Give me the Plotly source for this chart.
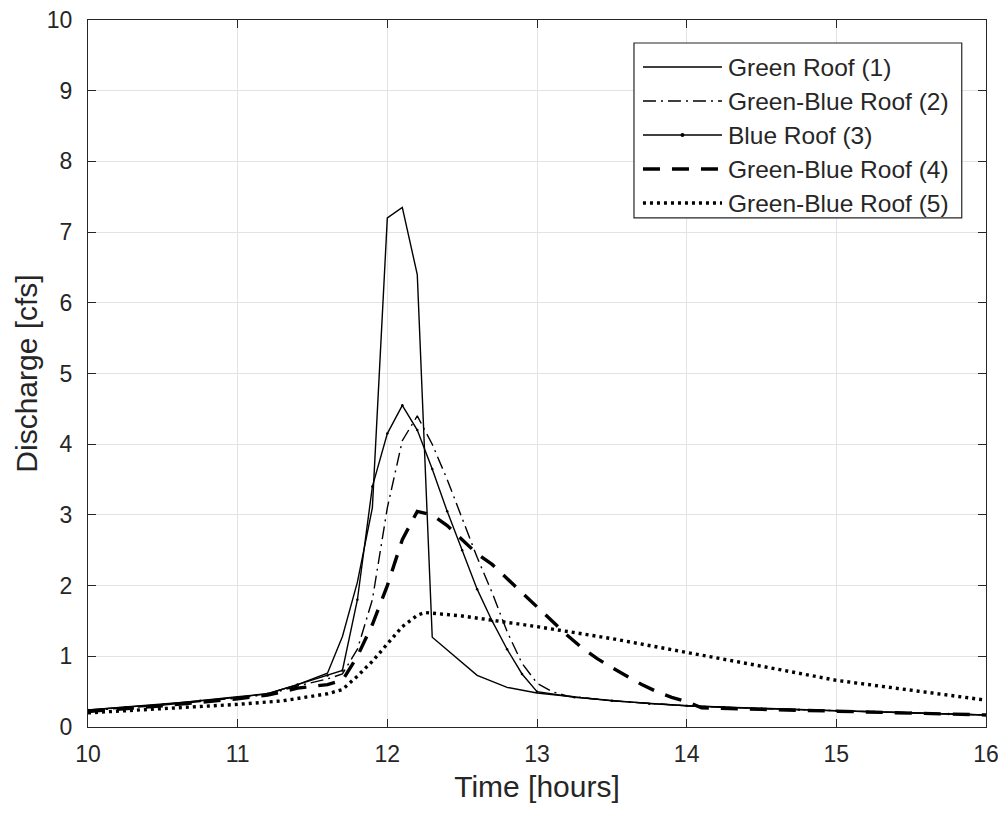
import plotly.graph_objects as go

# ---- data (time in hours, discharge in cfs) ----
names = ["Green Roof (1)", "Green-Blue Roof (2)", "Blue Roof (3)",
         "Green-Blue Roof (4)", "Green-Blue Roof (5)"]

t1 = [10.0, 10.5, 11.0, 11.2, 11.4, 11.6, 11.7, 11.8, 11.9, 12.0, 12.1, 12.2, 12.3,
      12.45, 12.6, 12.8, 13.0, 13.5, 14.0, 14.5, 15.0, 15.5, 16.0]
q1 = [0.24, 0.32, 0.43, 0.47, 0.60, 0.76, 1.28, 2.05, 3.1, 7.2, 7.35, 6.4, 1.27,
      1.0, 0.73, 0.56, 0.48, 0.37, 0.30, 0.26, 0.23, 0.20, 0.17]

t2 = [10.0, 10.5, 11.0, 11.2, 11.4, 11.6, 11.7, 11.8, 11.9, 12.0, 12.1, 12.2, 12.3,
      12.4, 12.5, 12.6, 12.7, 12.8, 12.9, 13.0, 13.1, 13.2, 13.5, 14.0, 14.5, 15.0,
      15.5, 16.0]
q2 = [0.23, 0.31, 0.41, 0.46, 0.58, 0.68, 0.75, 1.1, 1.8, 3.1, 4.05, 4.4, 4.0,
      3.5, 2.95, 2.4, 1.9, 1.35, 0.9, 0.62, 0.50, 0.44, 0.37, 0.30, 0.26, 0.23,
      0.20, 0.17]

t3 = [10.0, 10.25, 10.5, 10.75, 11.0, 11.2, 11.4, 11.6, 11.7, 11.8, 11.9, 12.0, 12.1,
      12.2, 12.3, 12.4, 12.5, 12.6, 12.7, 12.8, 12.9, 13.0, 13.25, 13.5, 13.75, 14.0,
      14.25, 14.5, 14.75, 15.0, 15.25, 15.5, 15.75, 16.0]
q3 = [0.24, 0.28, 0.32, 0.37, 0.42, 0.47, 0.60, 0.73, 0.80, 1.8, 3.4, 4.15, 4.55,
      4.2, 3.65, 3.05, 2.5, 1.95, 1.5, 1.1, 0.75, 0.50, 0.42, 0.37, 0.33, 0.30,
      0.28, 0.26, 0.245, 0.23, 0.215, 0.20, 0.185, 0.17]

t4 = [10.0, 10.5, 11.0, 11.2, 11.4, 11.6, 11.7, 11.8, 11.9, 12.0, 12.1, 12.2, 12.3,
      12.4, 12.5, 12.6, 12.7, 12.8, 12.9, 13.0, 13.1, 13.2, 13.3, 13.4, 13.5, 13.6,
      13.7, 13.8, 13.9, 14.0, 14.1, 14.5, 15.0, 15.5, 16.0]
q4 = [0.22, 0.30, 0.40, 0.45, 0.55, 0.60, 0.66, 1.0, 1.45, 2.0, 2.65, 3.05, 3.0,
      2.85, 2.65, 2.45, 2.3, 2.1, 1.9, 1.7, 1.5, 1.3, 1.12, 0.97, 0.84, 0.72,
      0.60, 0.50, 0.42, 0.36, 0.27, 0.25, 0.22, 0.20, 0.17]

t5 = [10.0, 10.5, 11.0, 11.3, 11.5, 11.6, 11.7, 11.8, 11.9, 12.0, 12.1, 12.2, 12.25,
      12.5, 12.75, 13.0, 13.5, 14.0, 14.5, 15.0, 15.5, 16.0]
q5 = [0.20, 0.26, 0.32, 0.37, 0.43, 0.47, 0.53, 0.72, 0.93, 1.18, 1.42, 1.58, 1.62,
      1.57, 1.50, 1.42, 1.25, 1.06, 0.86, 0.66, 0.52, 0.38]

x_ticks = [10, 11, 12, 13, 14, 15, 16]
y_ticks = [0, 1, 2, 3, 4, 5, 6, 7, 8, 9, 10]

series = [(t1, q1), (t2, q2), (t3, q3), (t4, q4), (t5, q5)]
styles = [
    dict(width=1.4, dash="solid"),
    dict(width=1.4, dash="13px,5px,2px,5px"),
    dict(width=1.4, dash="solid"),
    dict(width=3.4, dash="17px,12px"),
    dict(width=3.4, dash="3px,4px"),
]

INK = "#262626"
FONT = "Liberation Sans, Arial, sans-serif"

fig = go.Figure()
for i, ((t, q), nm, st) in enumerate(zip(series, names, styles)):
    fig.add_trace(go.Scatter(
        x=t, y=q, name=nm, mode="lines+markers" if i == 2 else "lines",
        line=dict(color="black", width=st["width"], dash=st["dash"]),
        marker=dict(size=2.5, color="black") if i == 2 else None,
        showlegend=False,
    ))

# ---- manual MATLAB-like legend ----
lx0, lx1, tx = 0.618, 0.706, 0.711
rows = [0.9335, 0.8854, 0.8373, 0.7892, 0.7411]
shapes = [dict(type="rect", xref="paper", yref="paper", x0=0.608, x1=0.973,
               y0=0.72, y1=0.9675, line=dict(color=INK, width=1.2),
               fillcolor="white", layer="above")]
annots = []
for nm, st, ry in zip(names, styles, rows):
    shapes.append(dict(type="line", xref="paper", yref="paper", x0=lx0, x1=lx1,
                       y0=ry, y1=ry, layer="above",
                       line=dict(color="black", width=st["width"], dash=st["dash"])))
    annots.append(dict(xref="paper", yref="paper", x=tx, y=ry, text=nm,
                       showarrow=False, xanchor="left", yanchor="middle",
                       font=dict(family=FONT, size=24.5, color=INK)))
# dot marker of Blue Roof (3) legend sample
cx = (lx0 + lx1) / 2
shapes.append(dict(type="circle", xref="paper", yref="paper",
                   x0=cx - 0.0022, x1=cx + 0.0022, y0=rows[2] - 0.0028,
                   y1=rows[2] + 0.0028, fillcolor="black",
                   line=dict(color="black", width=0), layer="above"))

axis_common = dict(
    showline=True, linecolor=INK, linewidth=1.2, mirror="ticks",
    ticks="inside", ticklen=8, tickcolor=INK, tickwidth=1,
    showgrid=True, gridcolor="#e3e3e3", gridwidth=1, zeroline=False,
    tickfont=dict(family=FONT, size=23, color=INK),
    ticklabeloverflow="allow", automargin=False,
)

fig.update_layout(
    width=996, height=797,
    margin=dict(l=80, r=18, t=12, b=78),
    paper_bgcolor="white", plot_bgcolor="white",
    xaxis=dict(range=[10, 16], tickvals=x_ticks, ticktext=[str(v) for v in x_ticks],
               ticklabelstandoff=6,
               title=dict(text="Time [hours]", font=dict(family=FONT, size=30, color=INK),
                          standoff=10),
               **axis_common),
    yaxis=dict(range=[0, 10], tickvals=y_ticks, ticktext=[str(v) for v in y_ticks],
               ticklabelstandoff=10,
               title=dict(text="Discharge [cfs]", font=dict(family=FONT, size=30, color=INK),
                          standoff=0),
               **axis_common),
    shapes=shapes,
    annotations=annots,
    showlegend=False,
)

fig.write_html("out.html")
